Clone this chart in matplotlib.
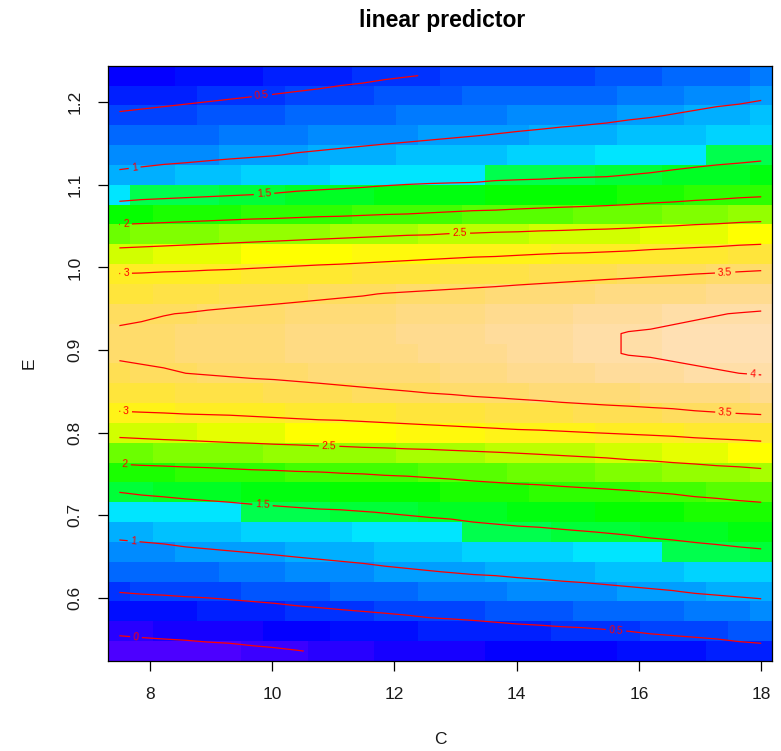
import colorsys
import numpy as np
import matplotlib
matplotlib.use('Agg')
import matplotlib.pyplot as plt
from matplotlib.colors import ListedColormap

plt.rcParams['font.family'] = ['Liberation Sans', 'DejaVu Sans']

# vis.gam style grid: 30 x 30, C along columns, E along rows (bottom to top)
c_range = [7.5, 18.0]
e_range = [0.5353, 1.2323]
n_grid = 30

# linear predictor on the grid, one list per E row (lowest E first)
lp_rows = [
    [-0.17, -0.15, -0.14, -0.12, -0.10, -0.09, -0.06, -0.04, -0.01, 0.02, 0.04, 0.07, 0.09, 0.12, 0.14, 0.15, 0.17, 0.18, 0.20, 0.21, 0.22, 0.24, 0.25, 0.27, 0.30, 0.32, 0.34, 0.36, 0.39, 0.41],
    [0.05, 0.07, 0.09, 0.10, 0.12, 0.14, 0.16, 0.19, 0.21, 0.23, 0.26, 0.28, 0.30, 0.33, 0.35, 0.37, 0.38, 0.40, 0.42, 0.43, 0.45, 0.46, 0.48, 0.50, 0.53, 0.55, 0.57, 0.59, 0.62, 0.64],
    [0.28, 0.30, 0.32, 0.33, 0.35, 0.37, 0.39, 0.41, 0.44, 0.46, 0.48, 0.50, 0.52, 0.54, 0.57, 0.58, 0.60, 0.62, 0.64, 0.66, 0.67, 0.69, 0.71, 0.73, 0.75, 0.77, 0.80, 0.82, 0.84, 0.86],
    [0.51, 0.53, 0.54, 0.56, 0.57, 0.59, 0.61, 0.63, 0.65, 0.67, 0.70, 0.72, 0.74, 0.76, 0.78, 0.80, 0.82, 0.84, 0.86, 0.87, 0.89, 0.91, 0.93, 0.95, 0.97, 0.99, 1.02, 1.04, 1.06, 1.08],
    [0.69, 0.71, 0.73, 0.75, 0.77, 0.79, 0.81, 0.83, 0.86, 0.88, 0.90, 0.92, 0.95, 0.97, 0.99, 1.01, 1.03, 1.04, 1.06, 1.08, 1.10, 1.11, 1.13, 1.15, 1.17, 1.19, 1.22, 1.24, 1.26, 1.28],
    [0.88, 0.90, 0.92, 0.95, 0.97, 0.99, 1.01, 1.03, 1.05, 1.07, 1.09, 1.11, 1.13, 1.15, 1.17, 1.19, 1.21, 1.23, 1.25, 1.26, 1.28, 1.30, 1.32, 1.34, 1.36, 1.38, 1.41, 1.43, 1.45, 1.47],
    [1.08, 1.10, 1.12, 1.15, 1.17, 1.19, 1.21, 1.23, 1.25, 1.27, 1.28, 1.30, 1.32, 1.34, 1.36, 1.37, 1.40, 1.42, 1.44, 1.45, 1.47, 1.49, 1.51, 1.53, 1.56, 1.58, 1.60, 1.62, 1.65, 1.67],
    [1.29, 1.31, 1.33, 1.34, 1.36, 1.37, 1.40, 1.42, 1.44, 1.46, 1.47, 1.49, 1.51, 1.53, 1.55, 1.57, 1.60, 1.62, 1.64, 1.66, 1.69, 1.71, 1.73, 1.75, 1.77, 1.79, 1.82, 1.84, 1.86, 1.88],
    [1.50, 1.53, 1.55, 1.58, 1.60, 1.63, 1.65, 1.67, 1.69, 1.71, 1.72, 1.74, 1.76, 1.78, 1.80, 1.82, 1.84, 1.86, 1.88, 1.89, 1.91, 1.93, 1.95, 1.97, 2.00, 2.02, 2.05, 2.07, 2.10, 2.12],
    [1.85, 1.87, 1.88, 1.90, 1.91, 1.93, 1.95, 1.96, 1.98, 1.99, 2.01, 2.02, 2.04, 2.05, 2.07, 2.09, 2.12, 2.14, 2.16, 2.18, 2.21, 2.23, 2.25, 2.28, 2.30, 2.33, 2.35, 2.38, 2.40, 2.43],
    [2.21, 2.23, 2.25, 2.26, 2.28, 2.30, 2.31, 2.33, 2.34, 2.36, 2.37, 2.39, 2.40, 2.42, 2.43, 2.45, 2.47, 2.49, 2.51, 2.53, 2.55, 2.57, 2.59, 2.62, 2.64, 2.67, 2.70, 2.73, 2.75, 2.78],
    [2.59, 2.61, 2.63, 2.65, 2.67, 2.69, 2.71, 2.73, 2.75, 2.77, 2.78, 2.80, 2.82, 2.84, 2.86, 2.88, 2.90, 2.92, 2.94, 2.95, 2.97, 2.99, 3.01, 3.03, 3.05, 3.07, 3.10, 3.12, 3.14, 3.16],
    [2.98, 2.99, 3.00, 3.02, 3.03, 3.04, 3.06, 3.08, 3.10, 3.12, 3.13, 3.15, 3.17, 3.19, 3.21, 3.23, 3.25, 3.27, 3.30, 3.32, 3.34, 3.36, 3.38, 3.40, 3.42, 3.44, 3.47, 3.49, 3.51, 3.53],
    [3.22, 3.24, 3.26, 3.27, 3.29, 3.31, 3.33, 3.35, 3.37, 3.39, 3.42, 3.44, 3.46, 3.48, 3.50, 3.52, 3.55, 3.57, 3.59, 3.61, 3.64, 3.66, 3.68, 3.69, 3.71, 3.72, 3.74, 3.75, 3.77, 3.78],
    [3.43, 3.45, 3.47, 3.50, 3.52, 3.54, 3.56, 3.57, 3.59, 3.61, 3.62, 3.64, 3.66, 3.67, 3.69, 3.71, 3.74, 3.76, 3.79, 3.81, 3.83, 3.86, 3.88, 3.90, 3.92, 3.94, 3.96, 3.98, 4.00, 4.02],
    [3.54, 3.56, 3.58, 3.61, 3.63, 3.65, 3.67, 3.68, 3.70, 3.71, 3.73, 3.74, 3.76, 3.77, 3.79, 3.81, 3.84, 3.86, 3.89, 3.91, 3.93, 3.96, 3.98, 4.01, 4.02, 4.04, 4.06, 4.08, 4.10, 4.12],
    [3.54, 3.56, 3.58, 3.61, 3.63, 3.65, 3.67, 3.68, 3.70, 3.72, 3.73, 3.75, 3.77, 3.78, 3.80, 3.82, 3.85, 3.87, 3.89, 3.91, 3.94, 3.96, 3.98, 4.01, 4.02, 4.04, 4.06, 4.08, 4.10, 4.12],
    [3.44, 3.46, 3.49, 3.51, 3.54, 3.56, 3.58, 3.60, 3.61, 3.63, 3.65, 3.67, 3.68, 3.70, 3.72, 3.74, 3.76, 3.78, 3.81, 3.83, 3.85, 3.87, 3.89, 3.91, 3.93, 3.95, 3.97, 3.99, 4.01, 4.03],
    [3.22, 3.25, 3.27, 3.30, 3.32, 3.35, 3.37, 3.39, 3.42, 3.44, 3.46, 3.48, 3.51, 3.53, 3.55, 3.57, 3.59, 3.61, 3.63, 3.65, 3.67, 3.69, 3.71, 3.72, 3.74, 3.75, 3.77, 3.78, 3.80, 3.81],
    [3.01, 3.02, 3.04, 3.05, 3.07, 3.08, 3.10, 3.12, 3.14, 3.16, 3.17, 3.19, 3.21, 3.23, 3.25, 3.27, 3.29, 3.31, 3.34, 3.36, 3.38, 3.40, 3.42, 3.44, 3.46, 3.48, 3.50, 3.52, 3.54, 3.56],
    [2.63, 2.65, 2.67, 2.69, 2.71, 2.73, 2.75, 2.77, 2.79, 2.81, 2.83, 2.85, 2.87, 2.89, 2.91, 2.93, 2.95, 2.96, 2.98, 3.00, 3.02, 3.03, 3.05, 3.07, 3.10, 3.12, 3.14, 3.16, 3.19, 3.21],
    [2.22, 2.24, 2.26, 2.28, 2.30, 2.32, 2.34, 2.36, 2.38, 2.40, 2.42, 2.44, 2.46, 2.48, 2.49, 2.52, 2.53, 2.55, 2.56, 2.58, 2.59, 2.61, 2.62, 2.64, 2.67, 2.69, 2.72, 2.74, 2.77, 2.79],
    [1.78, 1.80, 1.82, 1.84, 1.86, 1.88, 1.90, 1.91, 1.93, 1.95, 1.96, 1.98, 2.00, 2.01, 2.03, 2.05, 2.07, 2.08, 2.10, 2.12, 2.14, 2.15, 2.17, 2.19, 2.22, 2.24, 2.27, 2.29, 2.32, 2.34],
    [1.36, 1.40, 1.42, 1.44, 1.46, 1.48, 1.50, 1.52, 1.55, 1.57, 1.59, 1.61, 1.64, 1.66, 1.68, 1.69, 1.71, 1.72, 1.74, 1.75, 1.76, 1.78, 1.79, 1.81, 1.84, 1.86, 1.89, 1.91, 1.94, 1.96],
    [1.05, 1.08, 1.11, 1.14, 1.17, 1.20, 1.22, 1.24, 1.26, 1.28, 1.29, 1.31, 1.33, 1.35, 1.36, 1.37, 1.37, 1.41, 1.42, 1.43, 1.45, 1.46, 1.47, 1.50, 1.52, 1.55, 1.58, 1.61, 1.63, 1.66],
    [0.86, 0.88, 0.90, 0.91, 0.93, 0.95, 0.97, 0.99, 1.02, 1.04, 1.06, 1.08, 1.11, 1.13, 1.15, 1.17, 1.19, 1.20, 1.22, 1.24, 1.26, 1.27, 1.29, 1.31, 1.33, 1.35, 1.37, 1.39, 1.41, 1.43],
    [0.70, 0.72, 0.74, 0.75, 0.77, 0.79, 0.81, 0.83, 0.84, 0.86, 0.88, 0.90, 0.91, 0.93, 0.95, 0.97, 0.99, 1.01, 1.03, 1.05, 1.07, 1.09, 1.11, 1.13, 1.16, 1.18, 1.20, 1.22, 1.25, 1.27],
    [0.53, 0.55, 0.57, 0.59, 0.61, 0.63, 0.65, 0.67, 0.69, 0.71, 0.72, 0.74, 0.76, 0.78, 0.80, 0.82, 0.83, 0.85, 0.87, 0.88, 0.90, 0.91, 0.93, 0.96, 0.98, 1.01, 1.04, 1.07, 1.09, 1.12],
    [0.37, 0.39, 0.41, 0.43, 0.45, 0.47, 0.49, 0.51, 0.53, 0.55, 0.58, 0.60, 0.62, 0.64, 0.66, 0.67, 0.69, 0.70, 0.72, 0.73, 0.74, 0.76, 0.77, 0.80, 0.82, 0.85, 0.88, 0.91, 0.93, 0.96],
    [0.20, 0.22, 0.24, 0.27, 0.29, 0.31, 0.33, 0.35, 0.38, 0.40, 0.42, 0.44, 0.47, 0.49, 0.51, 0.52, 0.54, 0.55, 0.56, 0.57, 0.59, 0.60, 0.61, 0.64, 0.66, 0.69, 0.72, 0.75, 0.77, 0.80],
]

contour_levels = [0, 0.5, 1, 1.5, 2, 2.5, 3, 3.5, 4]
x_ticks = [8, 10, 12, 14, 16, 18]
y_ticks = [0.6, 0.7, 0.8, 0.9, 1.0, 1.1, 1.2]
y_ticklabels = ['0.6', '0.7', '0.8', '0.9', '1.0', '1.1', '1.2']

# where the contour labels sit (C, E)
label_pos = [(9.83, 1.209), (7.76, 1.115), (9.87, 1.085), (7.61, 1.048),
             (13.07, 1.038), (7.61, 0.991), (17.41, 0.993), (17.86, 0.868),
             (17.41, 0.820), (7.61, 0.824), (10.93, 0.781), (7.59, 0.761),
             (9.84, 0.711), (7.73, 0.666), (15.62, 0.556), (7.77, 0.550)]


def topo_colors(n):
    # same ramp as R's topo.colors()
    j = n // 3
    k = n // 3
    i = n - j - k
    cols = []
    for h in np.linspace(43 / 60, 31 / 60, i):
        cols.append(colorsys.hsv_to_rgb(h, 1, 1))
    for h in np.linspace(23 / 60, 11 / 60, j):
        cols.append(colorsys.hsv_to_rgb(h, 1, 1))
    for h, s in zip(np.linspace(10 / 60, 6 / 60, k), np.linspace(1, 0.3, k)):
        cols.append(colorsys.hsv_to_rgb(h, s, 1))
    return cols


c_grid = np.linspace(c_range[0], c_range[1], n_grid)
e_grid = np.linspace(e_range[0], e_range[1], n_grid)
z = np.array(lp_rows)

fig = plt.figure(figsize=(7.81, 7.51), dpi=100)
ax = fig.add_axes([108.3 / 781, 90 / 751, 664 / 781, 595.3 / 751])

ax.pcolormesh(c_grid, e_grid, z, cmap=ListedColormap(topo_colors(50)),
              vmin=z.min(), vmax=z.max(), shading='nearest')
cs = ax.contour(c_grid, e_grid, z, levels=contour_levels, colors='red', linewidths=0.9)
ax.clabel(cs, manual=label_pos, inline=True, inline_spacing=3, fontsize=7.5,
          fmt=lambda v: '%g' % v)

dc = (c_range[1] - c_range[0]) / (n_grid - 1) / 2
de = (e_range[1] - e_range[0]) / (n_grid - 1) / 2
ax.set_xlim(c_range[0] - dc, c_range[1] + dc)
ax.set_ylim(e_range[0] - de, e_range[1] + de)

ax.set_xticks(x_ticks)
ax.set_yticks(y_ticks)
ax.set_yticklabels(y_ticklabels)
ax.tick_params(direction='out', length=7.5, width=0.9, pad=11, labelsize=12.5,
               labelcolor='#1a1a1a')
ax.tick_params(axis='y', labelrotation=90)
for lab in ax.get_yticklabels():
    lab.set_va('center')
for sp in ax.spines.values():
    sp.set_linewidth(0.9)
    sp.set_color('black')

ax.set_xlabel('C', fontsize=12.5, labelpad=22, color='#1a1a1a')
ax.set_ylabel('E', fontsize=12.5, labelpad=22, color='#1a1a1a')
fig.text(441.7 / 781, 1 - 26.7 / 751, 'linear predictor', ha='center', va='baseline',
         fontsize=16.5, fontweight='bold')

fig.savefig('out.png', dpi=100)
